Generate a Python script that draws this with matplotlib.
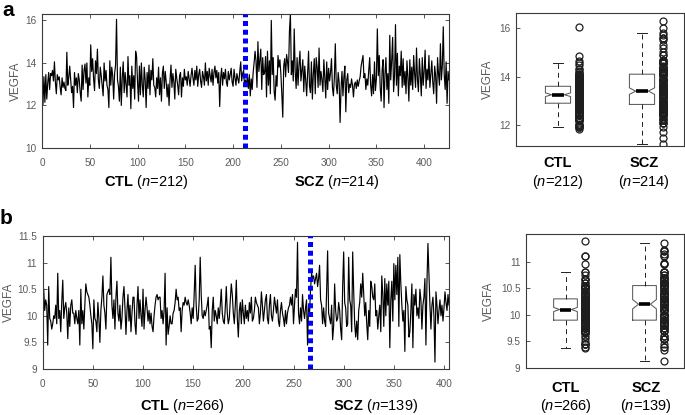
import numpy as np
import matplotlib
matplotlib.use('Agg')
import matplotlib.pyplot as plt

plt.rcParams['font.family'] = ['Liberation Sans', 'DejaVu Sans']
plt.rcParams['mathtext.fontset'] = 'custom'
plt.rcParams['mathtext.rm'] = 'Liberation Sans'
plt.rcParams['mathtext.it'] = 'Liberation Sans:italic'
plt.rcParams['mathtext.bf'] = 'Liberation Sans:bold'

# ---------------- data ----------------
groups = ['CTL', 'SCZ']
ylabel = 'VEGFA'
line_xticks = [0, 50, 100, 150, 200, 250, 300, 350, 400]

# panel a, cohort 1
a_ctl = [
    12.05, 13.35, 12.15, 13.45, 12.30, 13.05, 13.55, 12.75, 13.50, 13.40,
    13.65, 13.15, 14.05, 13.10, 12.55, 13.45, 13.20, 13.35, 12.85, 12.50,
    13.30, 12.85, 13.10, 12.80, 12.70, 14.50, 12.95, 13.30, 13.85, 13.20,
    12.60, 12.90, 11.90, 13.55, 12.95, 13.30, 12.60, 13.50, 13.20, 12.60,
    12.20, 13.90, 12.75, 13.65, 13.95, 13.05, 14.00, 12.40, 13.30, 12.95,
    14.85, 13.60, 14.20, 13.25, 12.70, 14.10, 13.50, 14.65, 13.20, 12.80,
    13.80, 13.40, 12.90, 12.45, 14.00, 13.15, 13.65, 12.95, 12.75, 11.90,
    14.10, 12.95, 13.80, 13.40, 12.30, 13.50, 13.90, 16.05, 13.20, 12.90,
    12.20, 13.80, 12.00, 13.30, 14.05, 12.60, 13.55, 12.95, 12.40, 14.30,
    12.95, 13.40, 11.85, 13.85, 12.80, 13.40, 12.30, 14.55, 14.30, 13.10,
    12.20, 13.85, 12.50, 14.00, 12.95, 12.40, 13.80, 13.20, 11.90, 13.55,
    12.80, 13.90, 12.50, 13.65, 13.20, 14.20, 12.95, 12.85, 12.40, 13.30,
    12.80, 13.80, 12.50, 13.30, 12.20, 13.50, 13.85, 12.80, 13.60, 13.10,
    12.40, 13.00, 12.00, 13.20, 13.90, 12.85, 13.50, 13.10, 12.30, 13.70,
    13.30, 12.95, 12.50, 13.40, 13.55, 12.40, 13.30, 12.90, 13.70, 13.20,
    13.35, 12.95, 13.60, 13.25, 12.90, 13.40, 13.75, 13.30, 12.95, 13.65,
    13.20, 13.85, 12.90, 13.45, 13.70, 13.15, 12.85, 13.60, 13.35, 12.95,
    14.00, 13.15, 13.60, 12.95, 13.75, 13.40, 13.10, 13.70, 12.95, 13.55,
    13.85, 13.30, 13.65, 13.05, 13.55, 11.95, 13.30, 13.75, 12.95, 13.55,
    13.25, 13.70, 13.10, 12.90, 13.60, 13.20, 13.45, 13.75, 13.10, 12.90,
    13.70, 13.30, 12.95, 13.50, 13.25, 13.05, 13.60, 14.05, 13.15, 13.50,
    13.65, 12.90,
]
a_scz = [
    13.20, 12.95, 13.35, 12.80, 13.45, 12.45, 13.25, 12.75, 13.55, 14.00,
    14.55, 14.10, 12.85, 15.00, 13.60, 14.15, 14.65, 12.75, 14.25, 13.45,
    13.55, 14.30, 12.40, 14.55, 12.95, 14.10, 12.55, 16.00, 13.45, 14.25,
    12.65, 12.25, 13.40, 12.90, 14.35, 13.80, 14.15, 13.50, 12.55, 11.45,
    13.85, 14.20, 13.35, 14.40, 14.05, 13.55, 15.50, 16.30, 13.45, 14.10,
    13.15, 15.60, 13.60, 12.80, 14.25, 12.95, 13.90, 14.55, 13.15, 13.65,
    14.15, 12.65, 13.85, 13.20, 12.45, 13.55, 14.55, 12.90, 12.60, 14.05,
    12.30, 13.50, 14.20, 12.55, 14.25, 13.80, 12.85, 14.70, 12.95, 13.60,
    13.20, 12.65, 14.15, 13.30, 12.35, 14.05, 12.75, 13.75, 13.15, 13.55,
    14.20, 12.85, 12.45, 13.30, 14.90, 12.95, 12.55, 13.55, 13.10, 11.20,
    12.80, 13.60, 12.45, 13.35, 13.85, 11.70, 13.20, 13.50, 12.60, 13.00,
    12.85, 13.25, 12.95, 12.40, 13.00, 13.10, 12.80, 13.20, 12.90, 13.15,
    13.35, 13.85, 14.10, 14.35, 13.30, 13.50, 12.75, 13.25, 12.95, 13.65,
    14.25, 12.95, 12.45, 13.45, 12.55, 14.05, 12.70, 13.25, 15.60, 13.40,
    14.35, 12.85, 12.20, 13.65, 14.15, 11.90, 13.50, 14.25, 12.75, 13.50,
    12.10, 15.30, 13.20, 14.10, 15.20, 12.65, 13.40, 15.80, 12.95, 14.45,
    12.45, 13.85, 13.40, 14.55, 12.85, 14.20, 12.95, 13.60, 12.55, 14.10,
    13.30, 12.20, 14.15, 12.95, 13.80, 12.75, 14.35, 13.50, 12.85, 14.70,
    13.20, 12.65, 14.20, 13.40, 12.45, 14.25, 12.95, 13.60, 14.60, 12.80,
    13.70, 13.20, 14.35, 12.85, 13.50, 14.10, 13.10, 12.55, 13.85, 13.40,
    12.10, 14.25, 13.50, 12.95, 14.90, 13.20, 13.85, 15.70, 13.45, 12.75,
    14.05, 12.10, 13.60, 13.20,
]

# panel b, cohort 2
b_ctl = [
    10.50, 10.10, 10.30, 10.20, 9.45, 10.55, 9.95, 9.90, 9.75, 9.85,
    10.00, 9.95, 10.20, 9.85, 10.80, 9.95, 10.10, 9.70, 10.25, 10.67,
    9.95, 10.15, 10.25, 10.05, 9.57, 10.15, 9.80, 10.20, 10.30, 10.05,
    10.05, 9.85, 10.10, 9.95, 9.85, 10.10, 9.45, 10.50, 9.85, 10.10,
    9.75, 10.20, 10.60, 10.45, 10.40, 10.35, 10.20, 10.00, 9.85, 9.38,
    10.30, 9.95, 9.90, 9.70, 10.25, 9.95, 9.50, 10.10, 10.35, 10.75,
    10.20, 10.05, 9.75, 10.40, 10.45, 10.50, 10.40, 11.10, 10.20, 9.95,
    10.30, 9.75, 10.35, 10.65, 10.05, 9.90, 10.20, 9.75, 9.95, 10.35,
    10.55, 10.15, 9.65, 10.10, 10.40, 9.90, 10.20, 9.70, 10.05, 10.35,
    10.35, 9.85, 9.65, 10.20, 10.55, 9.95, 10.30, 10.00, 9.80, 10.50,
    9.75, 10.10, 10.35, 10.15, 9.90, 10.10, 9.85, 10.05, 9.80, 9.70,
    10.00, 10.20, 10.35, 10.40, 10.30, 10.35, 10.35, 9.95, 10.10, 9.85,
    10.10, 10.80, 9.45, 10.15, 9.65, 9.80, 10.00, 9.85, 9.85, 10.05,
    10.10, 10.25, 10.50, 10.30, 10.35, 10.10, 10.15, 9.70, 10.10, 10.25,
    10.20, 10.35, 10.25, 10.20, 10.30, 10.20, 10.05, 9.85, 10.15, 9.95,
    10.40, 10.95, 10.20, 9.90, 9.95, 10.30, 11.10, 10.40, 10.00, 9.95,
    10.10, 10.00, 10.10, 10.20, 10.35, 9.75, 9.80, 9.40, 10.10, 10.35,
    9.90, 10.10, 10.00, 9.85, 10.15, 9.95, 10.20, 10.50, 10.05, 9.90,
    9.85, 10.15, 10.55, 10.05, 9.85, 9.95, 10.30, 10.60, 10.40, 10.05,
    9.85, 10.20, 10.67, 9.95, 9.60, 10.10, 10.25, 9.85, 10.30, 10.05,
    9.85, 10.20, 9.95, 10.10, 9.90, 10.25, 10.05, 10.35, 9.90, 9.95,
    10.10, 10.35, 10.25, 10.20, 10.15, 9.85, 10.05, 10.45, 10.20, 9.90,
    10.10, 10.30, 10.40, 9.95, 9.85, 10.20, 10.40, 10.00, 9.90, 10.10,
    10.35, 10.20, 10.05, 10.30, 9.90, 9.80, 10.10, 10.25, 10.05, 9.95,
    9.80, 10.10, 9.85, 10.05, 10.15, 10.20, 10.35, 10.20, 10.40, 9.85,
    10.20, 10.50, 10.35, 11.38, 10.05, 9.85, 10.15, 9.90, 10.40, 10.10,
    9.95, 10.15, 10.30, 9.45, 10.20, 10.05,
]
b_scz = [
    10.50, 10.80, 10.70, 10.75, 10.60, 10.70, 10.80, 10.55, 10.70, 10.95,
    10.30, 10.20, 9.85, 10.15, 9.90, 9.80, 10.45, 11.22, 10.05, 9.95,
    9.85, 10.20, 9.55, 9.80, 10.60, 10.10, 9.90, 9.95, 10.25, 10.10,
    9.75, 9.55, 10.55, 11.20, 10.25, 10.15, 9.80, 9.85, 11.10, 10.30,
    10.20, 9.70, 11.20, 10.45, 9.85, 9.60, 9.90, 9.55, 10.10, 10.25,
    10.60, 10.35, 10.80, 10.40, 10.00, 10.25, 9.85, 9.55, 10.10, 9.80,
    10.65, 10.55, 10.35, 10.30, 10.60, 10.00, 10.10, 9.75, 10.00, 10.20,
    9.70, 10.75, 10.40, 9.80, 10.70, 10.00, 10.60, 10.20, 10.65, 9.40,
    10.30, 10.65, 9.90, 10.98, 10.30, 10.95, 10.40, 11.10, 9.80, 11.15,
    10.60, 10.20, 9.90, 10.10, 9.33, 10.55, 10.30, 10.20, 9.60, 9.70,
    10.10, 10.60, 9.40, 10.40, 10.20, 10.50, 10.00, 10.15, 9.95, 10.50,
    10.30, 9.75, 10.20, 10.35, 10.70, 9.45, 10.60, 11.36, 10.80, 10.20,
    9.75, 10.20, 10.35, 10.00, 9.13, 10.45, 10.20, 9.85, 10.10, 10.30,
    10.00, 10.20, 9.90, 10.15, 10.45, 10.25, 10.10, 10.40, 10.20,
]

a_line_yticks = [10, 12, 14, 16]
a_box_yticks = [12, 14, 16]
b_line_yticks = [9, 9.5, 10, 10.5, 11, 11.5]
b_box_yticks = [9, 9.5, 10, 10.5, 11]

# ---------------- layout ----------------
W, H = 685, 415
fig = plt.figure(figsize=(W / 100, H / 100), dpi=100)

SPINE = '#3a3a3a'
TICKC = '#5a5a5a'


def ax_px(l, t, r, b):
    return fig.add_axes([l / W, 1 - b / H, (r - l) / W, (b - t) / H])


def fy(y):
    return 1 - y / H


def fmt(v):
    return ('%g' % v)


def style(ax, top_right=True):
    for s in ax.spines.values():
        s.set_color(SPINE)
        s.set_linewidth(0.8)
    ax.tick_params(direction='in', length=3, width=0.6, color=SPINE,
                   labelcolor=TICKC, labelsize=7.2,
                   top=top_right, right=top_right)
    ax.tick_params(axis='x', pad=7.5)
    ax.tick_params(axis='y', pad=4)


def line_panel(ax, ctl, scz, ylim, yticks):
    y = np.array(ctl + scz)
    x = np.arange(1, len(y) + 1)
    ax.plot(x, y, color='black', lw=0.85)
    ax.axvline(len(ctl), color='#0000ff', lw=3.6, linestyle=(0, (1, 0.75)),
               dash_capstyle='butt', zorder=3)
    ax.set_xlim(0, len(y))
    ax.set_ylim(*ylim)
    ax.set_xticks(line_xticks)
    ax.set_yticks(yticks)
    ax.set_yticklabels([fmt(v) for v in yticks])
    ax.set_ylabel(ylabel, fontsize=8.5, color=TICKC, labelpad=2)
    style(ax, True)


def box_panel(ax, ctl, scz, ylim, yticks):
    ax.boxplot([ctl, scz], positions=[1, 2], notch=True, widths=0.3,
               capwidths=0.11, showfliers=False, whis=1.5,
               boxprops=dict(color='#505050', lw=0.7),
               whiskerprops=dict(color='#202020', lw=0.7, linestyle=(0, (5, 4))),
               capprops=dict(color='#202020', lw=0.7),
               medianprops=dict(color='black', lw=2.6))
    for pos, vals in zip([1, 2], [ctl, scz]):
        ax.plot(np.full(len(vals), pos + 0.25), vals, 'o', mfc='none',
                mec='#1e1e1e', ms=5.0, mew=0.9)
    ax.set_xlim(0.5, 2.5)
    ax.set_ylim(*ylim)
    ax.set_xticks([])
    ax.set_yticks(yticks)
    ax.set_yticklabels([fmt(v) for v in yticks])
    ax.set_ylabel(ylabel, fontsize=8.5, color=TICKC, labelpad=4)
    style(ax, False)


# panel a
ax1 = ax_px(42, 14, 449, 148)
line_panel(ax1, a_ctl, a_scz, (10, 16.3), a_line_yticks)
ax2 = ax_px(516, 13, 684, 146)
box_panel(ax2, a_ctl, a_scz, (11.13, 16.63), a_box_yticks)

# panel b
ax3 = ax_px(42.7, 236, 449, 369)
line_panel(ax3, b_ctl, b_scz, (9, 11.5), b_line_yticks)
ax4 = ax_px(526, 234, 684, 368)
box_panel(ax4, b_ctl, b_scz, (9, 11.52), b_box_yticks)

FS = 10.5
n_a = (len(a_ctl), len(a_scz))
n_b = (len(b_ctl), len(b_scz))
# labels under line panels
for (cx, cy, g, n) in [(146, 182, groups[0], n_a[0]), (337, 182, groups[1], n_a[1]),
                       (182, 406, groups[0], n_b[0]), (376, 406, groups[1], n_b[1])]:
    fig.text(cx / W, fy(cy), r'$\mathbf{%s}$ ($\mathit{n}$=%d)' % (g, n),
             ha='center', va='center', fontsize=FS)

# labels under box panels
for (cx, y1, y2, g, n) in [(558, 163, 182, groups[0], n_a[0]), (644, 163, 182, groups[1], n_a[1]),
                           (566, 388, 406, groups[0], n_b[0]), (646, 388, 406, groups[1], n_b[1])]:
    fig.text(cx / W, fy(y1), g, ha='center', va='center', fontsize=FS, fontweight='bold')
    fig.text(cx / W, fy(y2), r'($\mathit{n}$=%d)' % n, ha='center', va='center', fontsize=FS)

# panel letters
fig.text(2 / W, fy(16), 'a', fontsize=15, fontweight='bold', va='baseline', ha='left')
fig.text(0 / W, fy(224), 'b', fontsize=15, fontweight='bold', va='baseline', ha='left')

fig.savefig('out.png', dpi=100)
